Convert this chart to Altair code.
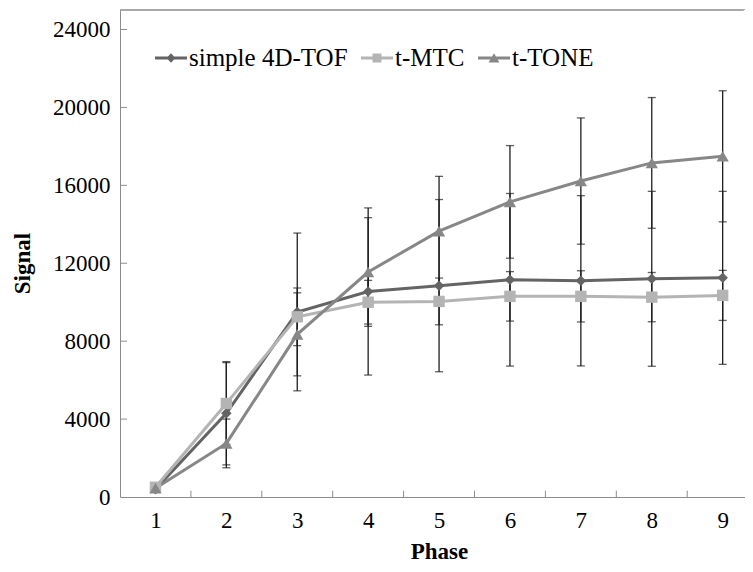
import altair as alt
import pandas as pd

phase = [1, 2, 3, 4, 5, 6, 7, 8, 9]
series = ["simple 4D-TOF", "t-MTC", "t-TONE"]

tof = [400, 4300, 9500, 10550, 10850, 11150, 11100, 11200, 11250]
tof_sd = [0, 2650, 4050, 4290, 4420, 4430, 4370, 4490, 4440]
mtc = [500, 4800, 9250, 10000, 10040, 10300, 10300, 10260, 10350]
mtc_sd = [0, 2100, 1480, 1120, 1200, 1270, 1315, 1265, 1285]
tone = [450, 2750, 8350, 11550, 13650, 15150, 16220, 17150, 17490]
tone_sd = [0, 1250, 2130, 2790, 2810, 2890, 3240, 3355, 3365]

colors = ["#646464", "#b4b4b4", "#878787"]
shapes = ["diamond", "square", "triangle-up"]
legend_paths = [
    "M-1,-0.09H1V0.09H-1Z M0,-0.3L0.28,0L0,0.3L-0.28,0Z",
    "M-1,-0.09H1V0.09H-1Z M-0.28,-0.28H0.28V0.28H-0.28Z",
    "M-1,-0.09H1V0.09H-1Z M0,-0.3L0.34,0.28L-0.34,0.28Z",
]

y_ticks = [0, 4000, 8000, 12000, 16000, 20000, 24000]
x_bounds = [1.5, 2.5, 3.5, 4.5, 5.5, 6.5, 7.5, 8.5]
X_DOMAIN = [0.5, 9.315]
Y_DOMAIN = [0, 25000]
X_TICK_LEN = 320      # in signal units
Y_TICK_LEN = 0.1      # in phase units
FRAME = "#8c8c8c"
FONT = "Liberation Serif"

rows = []
for name, vals, sds in zip(series, [tof, mtc, tone], [tof_sd, mtc_sd, tone_sd]):
    for p, v, s in zip(phase, vals, sds):
        rows.append(dict(series=name, phase=p, signal=v, sd=s, lo=v - s, hi=v + s))
df = pd.DataFrame(rows)

xs = alt.Scale(domain=X_DOMAIN, nice=False, zero=False)
ys = alt.Scale(domain=Y_DOMAIN, nice=False, zero=True)

x_axis = alt.Axis(values=phase, ticks=False, grid=False, title="Phase",
                  labelPadding=12, domainColor=FRAME, format="d",
                  titleX=319, titleY=54, titleBaseline="middle")
y_axis = alt.Axis(values=y_ticks, ticks=False, grid=False, title="Signal",
                  labelPadding=10, domainColor=FRAME, format="d",
                  titleX=-98, titleY=253, titleBaseline="middle", titleAlign="center")


def X(field):
    return alt.X(field, scale=xs, axis=x_axis)


def Y(field):
    return alt.Y(field, scale=ys, axis=y_axis)


def color_enc(legend=None):
    return alt.Color("series:N", scale=alt.Scale(domain=series, range=colors), legend=legend)


eb = alt.Chart(df).transform_filter("datum.sd > 0")
err_rule = eb.mark_rule(color="#1e1e1e", strokeWidth=1.3).encode(
    x=X("phase:Q"), y=Y("lo:Q"), y2="hi:Q")
err_caps = eb.transform_fold(["lo", "hi"], as_=["end", "val"]).mark_tick(
    color="#1e1e1e", orient="horizontal", size=8, thickness=1.3).encode(
    x=X("phase:Q"), y=Y("val:Q"))

lines = alt.Chart(df).mark_line(strokeWidth=3).encode(
    x=X("phase:Q"), y=Y("signal:Q"), color=color_enc(),
    order="phase:Q", detail="series:N")

points = alt.Chart(df).mark_point(filled=True, opacity=1).encode(
    x=X("phase:Q"), y=Y("signal:Q"), color=color_enc(),
    shape=alt.Shape("series:N", scale=alt.Scale(domain=series, range=shapes), legend=None),
    size=alt.Size("series:N", scale=alt.Scale(domain=series, range=[110, 150, 170]), legend=None))

leg = alt.Legend(orient="none", legendX=35, legendY=32, direction="horizontal", title=None,
                 symbolSize=1024, labelFontSize=25, labelFont=FONT, labelColor="black",
                 columnPadding=13, labelOffset=2, symbolStrokeWidth=0, padding=0)
legend_layer = alt.Chart(df).transform_filter("false").mark_point(filled=True, opacity=1).encode(
    x=X("phase:Q"), y=Y("signal:Q"),
    color=color_enc(leg),
    shape=alt.Shape("series:N", scale=alt.Scale(domain=series, range=legend_paths), legend=leg))

xt = alt.Chart(pd.DataFrame({"b": x_bounds})).transform_calculate(
    y0="0", y1=str(X_TICK_LEN)).mark_rule(color=FRAME, strokeWidth=1).encode(
    x=X("b:Q"), y=Y("y0:Q"), y2="y1:Q")
yt = alt.Chart(pd.DataFrame({"t": y_ticks[1:]})).transform_calculate(
    x0=str(X_DOMAIN[0]), x1=str(X_DOMAIN[0] + Y_TICK_LEN)).mark_rule(color=FRAME, strokeWidth=1).encode(
    x=X("x0:Q"), x2="x1:Q", y=Y("t:Q"))
top = alt.Chart(pd.DataFrame({"t": [Y_DOMAIN[1]]})).transform_calculate(
    x0=str(X_DOMAIN[0]), x1=str(X_DOMAIN[1])).mark_rule(color=FRAME, strokeWidth=1.5).encode(
    x=X("x0:Q"), x2="x1:Q", y=Y("t:Q"))
# plot is cut by the page edge in the reference: mask the right border
edge = alt.Chart(pd.DataFrame({"e": [X_DOMAIN[1]]})).transform_calculate(
    y0="0", y1=str(Y_DOMAIN[1])).mark_rule(color="white", strokeWidth=2.5).encode(
    x=X("e:Q"), y=Y("y0:Q"), y2="y1:Q")

chart = alt.layer(xt, yt, top, err_rule, err_caps, lines, points, legend_layer, edge).resolve_scale(
    color="independent", shape="independent", size="independent"
).properties(
    width=625, height=487,
    autosize=alt.AutoSizeParams(type="none"),
    padding={"left": 112, "top": 2, "right": 0, "bottom": 66},
    background="white",
).configure_view(stroke=None).configure_axis(
    labelFont=FONT, labelFontSize=23, labelColor="black",
    titleFont=FONT, titleFontSize=23, titleFontWeight="bold", titleColor="black",
)

chart.save("out.html", embed_options={"renderer": "svg", "actions": False})
